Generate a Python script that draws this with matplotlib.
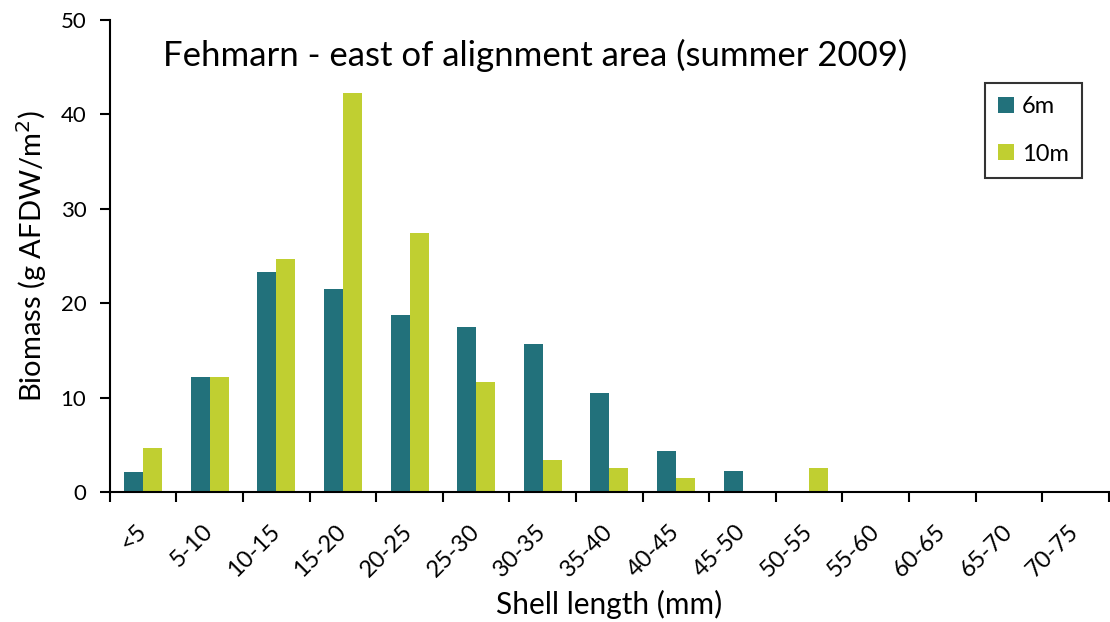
import matplotlib.pyplot as plt
import numpy as np

plt.rcParams['font.family'] = ['Lato', 'DejaVu Sans']

# Shell length classes and biomass per depth
klassen = ['<5', '5-10', '10-15', '15-20', '20-25', '25-30', '30-35', '35-40',
           '40-45', '45-50', '50-55', '55-60', '60-65', '65-70', '70-75']
biomasse_6m = [2.1, 12.2, 23.3, 21.5, 18.7, 17.5, 15.7, 10.5, 4.3, 2.2, 0, 0, 0, 0, 0]
biomasse_10m = [4.7, 12.2, 24.7, 42.3, 27.4, 11.7, 3.4, 2.5, 1.5, 0, 2.5, 0, 0, 0, 0]

farbe_6m = '#22717b'
farbe_10m = '#c0cf31'

fig = plt.figure(figsize=(11.1, 6.22), dpi=100)
ax = fig.add_axes([0.099, 0.209, 0.9, 0.759])

x = np.arange(len(klassen))
breite = 0.285
ax.bar(x - breite / 2, biomasse_6m, breite, color=farbe_6m, label='6m')
ax.bar(x + breite / 2, biomasse_10m, breite, color=farbe_10m, label='10m')

ax.set_xlim(-0.5, len(klassen) - 0.5)
ax.set_ylim(0, 50)
ax.set_yticks(range(0, 51, 10))

# category labels centred, tick marks on the class boundaries
ax.set_xticks(x)
ax.set_xticklabels(klassen, rotation=45, ha='right', va='center',
                   rotation_mode='anchor')
ax.tick_params(axis='x', which='major', length=0, pad=26, labelsize=17)
ax.set_xticks(np.arange(-0.5, len(klassen), 1), minor=True)
ax.tick_params(axis='x', which='minor', length=7, width=1.5, direction='out')
ax.tick_params(axis='y', length=7, width=1.5, direction='out', labelsize=16, pad=10)

for s in ['top', 'right']:
    ax.spines[s].set_visible(False)
for s in ['left', 'bottom']:
    ax.spines[s].set_linewidth(1.5)

ax.set_xlabel('Shell length (mm)', fontsize=21.5, va='center')
ax.xaxis.set_label_coords(0.5, -0.238)
ax.set_ylabel('Biomass (g AFDW/m$^2$)', fontsize=21, labelpad=8)

ax.text(0.053, 0.925, 'Fehmarn - east of alignment area (summer 2009)',
        transform=ax.transAxes, fontsize=25, va='center', ha='left')

leg = ax.legend(loc='upper right', bbox_to_anchor=(0.973, 0.866), fontsize=17,
                frameon=True, fancybox=False, edgecolor='black',
                handlelength=0.65, handleheight=0.65, handletextpad=0.35,
                labelspacing=1.12, borderpad=0.55, borderaxespad=0)
leg.get_frame().set_linewidth(1.5)

fig.savefig('out.png', dpi=100)
